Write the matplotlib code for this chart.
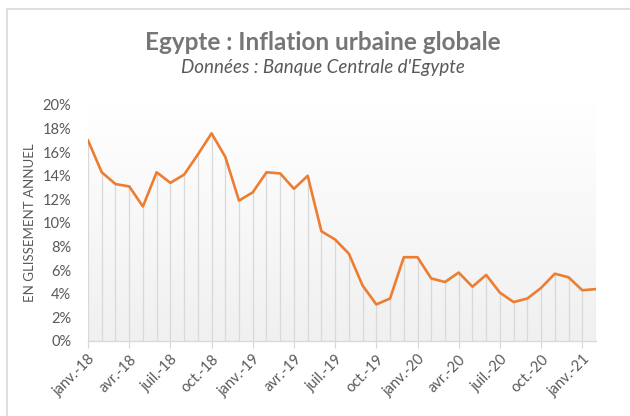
import matplotlib
matplotlib.use("Agg")
import matplotlib.pyplot as plt
import numpy as np
from matplotlib.lines import Line2D
from matplotlib.colors import LinearSegmentedColormap

months = ["2018-01", "2018-02", "2018-03", "2018-04", "2018-05", "2018-06", "2018-07", "2018-08",
          "2018-09", "2018-10", "2018-11", "2018-12", "2019-01", "2019-02", "2019-03", "2019-04",
          "2019-05", "2019-06", "2019-07", "2019-08", "2019-09", "2019-10", "2019-11", "2019-12",
          "2020-01", "2020-02", "2020-03", "2020-04", "2020-05", "2020-06", "2020-07", "2020-08",
          "2020-09", "2020-10", "2020-11", "2020-12", "2021-01", "2021-02"]
inflation = [17.0, 14.3, 13.3, 13.1, 11.4, 14.3, 13.4, 14.1, 15.8, 17.6, 15.6, 11.9,
             12.6, 14.3, 14.2, 12.9, 14.0, 9.3, 8.6, 7.4, 4.7, 3.1, 3.6, 7.1,
             7.1, 5.3, 5.0, 5.8, 4.6, 5.6, 4.1, 3.3, 3.6, 4.5, 5.7, 5.4, 4.3, 4.4]
tick_labels = ["janv.-18", "avr.-18", "juil.-18", "oct.-18", "janv.-19", "avr.-19", "juil.-19",
               "oct.-19", "janv.-20", "avr.-20", "juil.-20", "oct.-20", "janv.-21"]
y_ticks = [0, 2, 4, 6, 8, 10, 12, 14, 16, 18, 20]

title = "Egypte : Inflation urbaine globale"
subtitle = "Données : Banque Centrale d'Egypte"
ylabel = "EN GLISSEMENT ANNUEL"

plt.rcParams['font.family'] = ['Lato', 'DejaVu Sans']

W, H = 630, 416
fig = plt.figure(figsize=(W / 100, H / 100), dpi=100)
fig.patch.set_facecolor('white')

left, right, bottom, top = 88 / W, 596 / W, 1 - 341 / H, 1 - 105 / H
ax = fig.add_axes([left, bottom, right - left, top - bottom])

x = np.arange(len(inflation))
ax.set_xlim(0, len(inflation) - 1)
ax.set_ylim(0, 20)

# gradient background
grad = np.linspace(0, 1, 256).reshape(-1, 1)
cmap = LinearSegmentedColormap.from_list("g", ["#f0f0f0", "#ffffff"])
ax.imshow(grad, cmap=cmap, aspect='auto', extent=[0, 1, 0, 1], origin='lower',
          transform=ax.transAxes, zorder=0)

ax.vlines(x, 0, inflation, color='#d9d9d9', lw=0.9, zorder=1)
ax.plot(x, inflation, color='#ED7D31', lw=1.9, zorder=3, solid_joinstyle='round')

for s in ['top', 'right', 'left']:
    ax.spines[s].set_visible(False)
ax.spines['bottom'].set_color('#d9d9d9')
ax.spines['bottom'].set_linewidth(1.0)

ax.set_yticks(y_ticks)
ax.set_yticklabels([f"{v}%" for v in y_ticks])
ax.tick_params(axis='y', length=0, pad=12, labelsize=10.5, labelcolor='#595959')

ax.set_xticks(np.arange(0, len(inflation), 3))
ax.set_xticklabels(tick_labels, rotation=45, ha='right', rotation_mode='anchor')
ax.tick_params(axis='x', length=5, width=0.9, color='#d9d9d9', labelsize=10.5,
               labelcolor='#595959', pad=3)

fig.text(30 / W, 1 - 223 / H, ylabel, rotation=90, ha='center', va='center',
         fontsize=9.5, color='#595959')

fig.text(323 / W, 1 - 42 / H, title, ha='center', va='center', fontsize=17.5,
         fontweight='bold', color='#767676')
fig.text(323 / W, 1 - 68 / H, subtitle, ha='center', va='center', fontsize=13.5,
         style='italic', color='#595959')

# frame border (top & left)
fig.add_artist(Line2D([7 / W, 7 / W, 1.0], [0.0, 1 - 9 / H, 1 - 9 / H],
                      transform=fig.transFigure, color='#d9d9d9', lw=1.2))

fig.savefig("out.png", dpi=100)
